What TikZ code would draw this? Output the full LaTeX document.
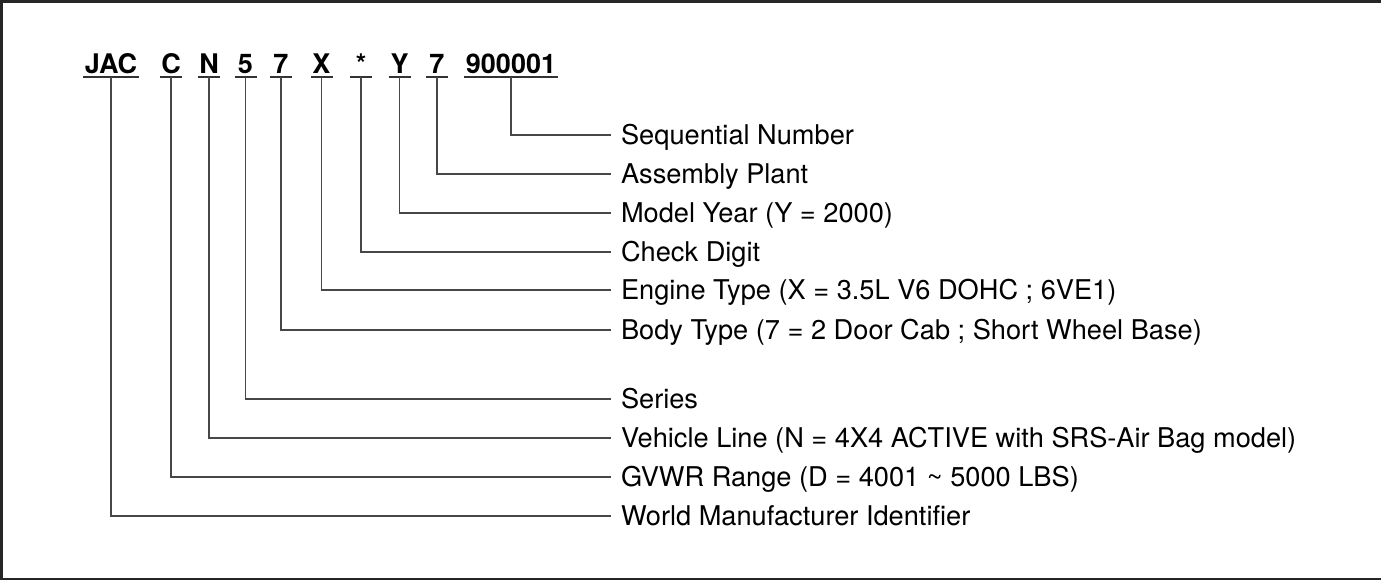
\documentclass[tikz,border=0pt]{standalone}
\usepackage{fontspec}
\setmainfont{TeX Gyre Heros}
\begin{document}
\begin{tikzpicture}[x=1pt,y=-1pt,
  codebox/.style={anchor=south,inner xsep=1.5pt,inner ysep=0pt,outer sep=0pt,
     text height=19pt,text depth=4pt,minimum width=22pt,
     font=\fontsize{27}{30}\selectfont\bfseries},
  labelbox/.style={anchor=west,inner xsep=10pt,inner ysep=0pt,outer sep=0pt,
     text height=19pt,text depth=0pt,font=\fontsize{27.2}{30}\selectfont},
  uline/.style={line width=1.6pt,black!80},
  conn/.style={line width=1.5pt,black!72},
  frame/.style={line width=2.5pt,black!85}]
\useasboundingbox (0,0) rectangle (1381,581);
\draw[frame] (1385,1.5) -- (1.5,1.5) -- (1.5,579) -- (1385,579);

% code characters
\node[codebox] (cW) at (111,77) {JAC};
\node[codebox] (cG) at (171,77) {C};
\node[codebox] (cN) at (209,77) {N};
\node[codebox] (cS) at (245.5,77) {5};
\node[codebox] (cB) at (281,77) {7};
\node[codebox] (cE) at (321.5,77) {X};
\node[codebox] (cK) at (361,77) {*};
\node[codebox] (cY) at (399.5,77) {Y};
\node[codebox] (cP) at (437,77) {7};
\node[codebox] (cQ) at (511,77) {900001};

\foreach \n in {cW,cG,cN,cS,cB,cE,cK,cY,cP,cQ}
  \draw[uline] (\n.south west) -- (\n.south east);

% labels
\node[labelbox] (lQ) at (611,135) {Sequential Number};
\node[labelbox] (lP) at (611,174) {Assembly Plant};
\node[labelbox] (lY) at (611,213) {Model Year (Y = 2000)};
\node[labelbox] (lK) at (611,252) {Check Digit};
\node[labelbox] (lE) at (611,290) {Engine Type (X = 3.5L V6 DOHC ; 6VE1)};
\node[labelbox] (lB) at (611,330) {Body Type (7 = 2 Door Cab ; Short Wheel Base)};
\node[labelbox] (lS) at (611,399) {Series};
\node[labelbox] (lN) at (611,438) {Vehicle Line (N = 4X4 ACTIVE with SRS-Air Bag model)};
\node[labelbox] (lG) at (611,477) {GVWR Range (D = 4001 \textasciitilde{} 5000 LBS)};
\node[labelbox] (lW) at (611,516) {World Manufacturer Identifier};

% connectors
\foreach \k in {W,G,N,S,B,E,K,Y,P,Q}
  \draw[conn] (c\k.south) |- (l\k.west);
\end{tikzpicture}
\end{document}
